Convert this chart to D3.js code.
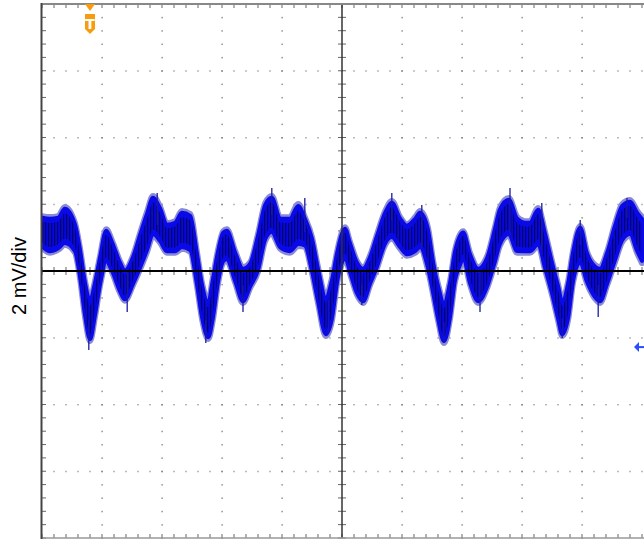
<!DOCTYPE html>
<meta charset="utf-8">
<style>
body { margin: 0; background: #fff; }
svg { display: block; }
.lbl { font-family: "Liberation Sans", Arial, sans-serif; font-size: 20px; fill: #000; }
</style>
<body>
<script src="https://d3js.org/d3.v7.min.js"></script>
<script>
// time in divisions (0..10), trace centre and noise half-width in mV (2 mV/div)
var tDiv = [0.00, 0.13, 0.27, 0.38, 0.55, 0.63, 0.72, 0.80, 0.88, 0.97,
  1.07, 1.17, 1.30, 1.38, 1.52, 1.63, 1.75, 1.85, 1.97, 2.08,
  2.22, 2.33, 2.47, 2.58, 2.67, 2.77, 2.85, 2.93, 3.02, 3.08,
  3.22, 3.35, 3.47, 3.60, 3.72, 3.83, 3.97, 4.13, 4.27, 4.38,
  4.50, 4.60, 4.73, 4.83, 4.92, 5.00, 5.05, 5.13, 5.25, 5.35,
  5.47, 5.58, 5.72, 5.83, 5.97, 6.08, 6.22, 6.30, 6.43, 6.52,
  6.60, 6.70, 6.80, 6.88, 6.97, 7.02, 7.13, 7.27, 7.42, 7.55,
  7.63, 7.78, 7.92, 8.05, 8.13, 8.27, 8.38, 8.50, 8.60, 8.67,
  8.77, 8.85, 8.97, 9.08, 9.22, 9.30, 9.42, 9.55, 9.67, 9.80,
  9.92, 10.0];
var centreMv = [1.17, 1.08, 1.14, 1.35, 0.99, 0.27, -0.87, -1.47, -0.87, 0.03,
  0.75, 0.42, -0.18, -0.42, 0.03, 0.57, 1.17, 1.65, 1.38, 0.99,
  1.02, 1.23, 1.14, 0.09, -0.93, -1.47, -0.81, 0.09, 0.72, 0.78,
  0.12, -0.42, -0.12, 0.54, 1.47, 1.68, 1.14, 1.08, 1.38, 1.17,
  0.48, -0.42, -1.35, -0.87, 0.12, 0.69, 0.84, 0.42, -0.21, -0.42,
  0.03, 0.57, 1.29, 1.53, 1.14, 0.93, 1.08, 1.23, 0.69, -0.21,
  -0.93, -1.53, -0.87, 0.12, 0.63, 0.78, 0.09, -0.42, -0.03, 0.78,
  1.32, 1.62, 1.08, 1.02, 1.02, 1.32, 0.63, -0.21, -0.93, -1.41,
  -0.87, 0.12, 0.78, 0.12, -0.33, -0.42, 0.09, 0.84, 1.44, 1.59,
  1.17, 0.93];
var noiseMv = [0.45, 0.51, 0.48, 0.54, 0.42, 0.42, 0.51, 0.60, 0.51, 0.42,
  0.48, 0.45, 0.45, 0.45, 0.42, 0.51, 0.57, 0.57, 0.51, 0.42,
  0.45, 0.54, 0.54, 0.48, 0.51, 0.54, 0.60, 0.48, 0.45, 0.45,
  0.45, 0.51, 0.36, 0.54, 0.54, 0.54, 0.45, 0.51, 0.60, 0.42,
  0.51, 0.51, 0.57, 0.60, 0.45, 0.45, 0.45, 0.45, 0.48, 0.51,
  0.42, 0.48, 0.48, 0.54, 0.45, 0.45, 0.51, 0.54, 0.60, 0.48,
  0.51, 0.60, 0.54, 0.45, 0.45, 0.39, 0.45, 0.51, 0.45, 0.51,
  0.54, 0.54, 0.51, 0.45, 0.45, 0.54, 0.54, 0.48, 0.51, 0.51,
  0.54, 0.45, 0.54, 0.45, 0.48, 0.51, 0.48, 0.54, 0.54, 0.51,
  0.60, 0.66];
// isolated noise spikes: time (div), tip value (mV)
var spikeT = [0.78, 1.42, 1.92, 2.73, 3.35, 3.83, 4.38, 4.77, 5.33, 5.83,
  6.33, 6.70, 7.30, 7.80, 8.33, 8.67, 8.97, 9.27, 9.75];
var spikeMv = [-2.37, -1.23, 2.34, -2.16, -1.23, 2.49, 2.19, -1.89, -1.02, 2.34,
  1.98, -2.16, -1.23, 2.49, 2.04, -2.01, 1.53, -1.38, 2.19];
var triggerT = 0.8;
var groundMv = -2.28;
var yLabel = "2 mV/div";

var W = 644, H = 539;
var pLeft = 42, pRight = 642, pTop = 4, pBottom = 538;

var x = d3.scaleLinear().domain([0, 10]).range([pLeft, pRight]);
var y = d3.scaleLinear().domain([-8, 8]).range([pBottom, pTop]);

var svg = d3.select("body").append("svg")
    .attr("width", W)
    .attr("height", H);

// vertical hatch that gives the trace its sampled look
var pat = svg.append("defs").append("pattern")
    .attr("id", "hatch").attr("patternUnits", "userSpaceOnUse")
    .attr("width", 3).attr("height", 6);
pat.append("rect").attr("width", 3).attr("height", 6).attr("fill", "#0808d8");
pat.append("rect").attr("width", 1.2).attr("height", 6).attr("fill", "#000070");

var data = tDiv.map(function(t, i) { return {t: t, c: centreMv[i], n: noiseMv[i]}; });

// graticule dots
var g = svg.append("g").attr("fill", "#777");
var minorX = d3.range(0, 50.5, 1).map(function(i) { return x(i / 5); });
var minorY = d3.range(0, 40.5, 1).map(function(i) { return y(-8 + i * 0.4); });
[-6, -4, -2, 2, 4, 6].forEach(function(v) {
  minorX.forEach(function(px) {
    g.append("rect").attr("x", px - 0.5).attr("y", y(v) - 0.5).attr("width", 1).attr("height", 1.5);
  });
});
[1, 2, 3, 4, 6, 7, 8, 9].forEach(function(d) {
  minorY.forEach(function(py) {
    g.append("rect").attr("x", x(d) - 0.5).attr("y", py - 0.5).attr("width", 1.2).attr("height", 1.5);
  });
});

// ticks on frame edges and centre lines
var tk = svg.append("g").attr("stroke", "#666").attr("stroke-width", 1);
minorX.forEach(function(px) {
  tk.append("line").attr("x1", px).attr("x2", px).attr("y1", pTop).attr("y2", pTop + 4);
  tk.append("line").attr("x1", px).attr("x2", px).attr("y1", pBottom - 4).attr("y2", pBottom);
  tk.append("line").attr("x1", px).attr("x2", px).attr("y1", y(0) - 4).attr("y2", y(0) + 4);
});
minorY.forEach(function(py) {
  tk.append("line").attr("x1", pLeft).attr("x2", pLeft + 4).attr("y1", py).attr("y2", py);
  tk.append("line").attr("x1", x(5) - 4).attr("x2", x(5) + 4).attr("y1", py).attr("y2", py);
});

// the trace: noise band in layers
var band = function(k) {
  return d3.area()
    .x(function(d) { return x(d.t); })
    .y0(function(d) { return y(d.c - d.n * k); })
    .y1(function(d) { return y(d.c + d.n * k); })
    .curve(d3.curveMonotoneX);
};
var plotClip = svg.append("clipPath").attr("id", "clip").append("rect")
  .attr("x", pLeft).attr("y", pTop).attr("width", W - pLeft).attr("height", pBottom - pTop);
var tr = svg.append("g").attr("clip-path", "url(#clip)");
tr.append("path").datum(data).attr("d", band(1.05))
  .attr("fill", "#8a8ad4").attr("stroke", "#8a8ad4").attr("stroke-width", 6).attr("stroke-linejoin", "round");
tr.append("path").datum(data).attr("d", band(0.95))
  .attr("fill", "#0a0ae8").attr("stroke", "#0a0ae8").attr("stroke-width", 4).attr("stroke-linejoin", "round");
tr.append("path").datum(data).attr("d", band(0.7)).attr("fill", "url(#hatch)");

// spikes from the trace centre to their tips
var centreAt = function(t) {
  var i = d3.bisectLeft(tDiv, t);
  return centreMv[Math.min(i, centreMv.length - 1)];
};
tr.append("g").attr("stroke", "#1a1aa8").attr("stroke-width", 1.3)
  .selectAll("line").data(spikeT).enter().append("line")
    .attr("x1", function(d) { return x(d); })
    .attr("x2", function(d) { return x(d); })
    .attr("y1", function(d) { return y(centreAt(d)); })
    .attr("y2", function(d, i) { return y(spikeMv[i]); });

// centre cross and frame
svg.append("line").attr("x1", pLeft).attr("x2", W).attr("y1", y(0)).attr("y2", y(0))
  .attr("stroke", "#000").attr("stroke-width", 2);
svg.append("line").attr("x1", x(5)).attr("x2", x(5)).attr("y1", pTop).attr("y2", pBottom)
  .attr("stroke", "#333").attr("stroke-width", 1.5);
svg.append("line").attr("x1", pLeft).attr("x2", W).attr("y1", pTop).attr("y2", pTop)
  .attr("stroke", "#888").attr("stroke-width", 2);
svg.append("line").attr("x1", pLeft).attr("x2", W).attr("y1", pBottom).attr("y2", pBottom)
  .attr("stroke", "#999").attr("stroke-width", 1.5);
svg.append("line").attr("x1", pLeft - 0.5).attr("x2", pLeft - 0.5).attr("y1", pTop - 1).attr("y2", H)
  .attr("stroke", "#444").attr("stroke-width", 2);

// trigger marker
var tx = x(triggerT);
svg.append("path")
  .attr("d", "M" + (tx - 5) + "," + pTop + "L" + (tx + 5) + "," + pTop + "L" + tx + "," + (pTop + 7) + "Z")
  .attr("fill", "#f59d0c");
svg.append("path")
  .attr("d", "M" + (tx - 5) + "," + 14 + "L" + (tx + 5) + "," + 14 + "L" + (tx + 5) + "," + 29 +
    "L" + tx + "," + 34 + "L" + (tx - 5) + "," + 29 + "Z")
  .attr("fill", "#f59d0c");
svg.append("text").attr("x", tx).attr("y", 29).attr("text-anchor", "middle")
  .attr("font-family", "DejaVu Sans, sans-serif").attr("font-size", 14).attr("font-weight", "bold")
  .attr("fill", "#fff").text("T");

// ground reference marker
var gy = y(groundMv);
svg.append("path")
  .attr("d", "M" + (pRight - 8) + "," + gy + "L" + (pRight - 3) + "," + (gy - 5) + "L" + (pRight - 3) + "," + (gy + 5) + "Z")
  .attr("fill", "#2a4cff");
svg.append("line").attr("x1", pRight - 4).attr("x2", W).attr("y1", gy).attr("y2", gy)
  .attr("stroke", "#2a4cff").attr("stroke-width", 2);

// y label
svg.append("text").attr("class", "lbl")
  .attr("transform", "translate(26," + 276 + ") rotate(-90)")
  .attr("text-anchor", "middle")
  .text(yLabel);
</script>
</body>
